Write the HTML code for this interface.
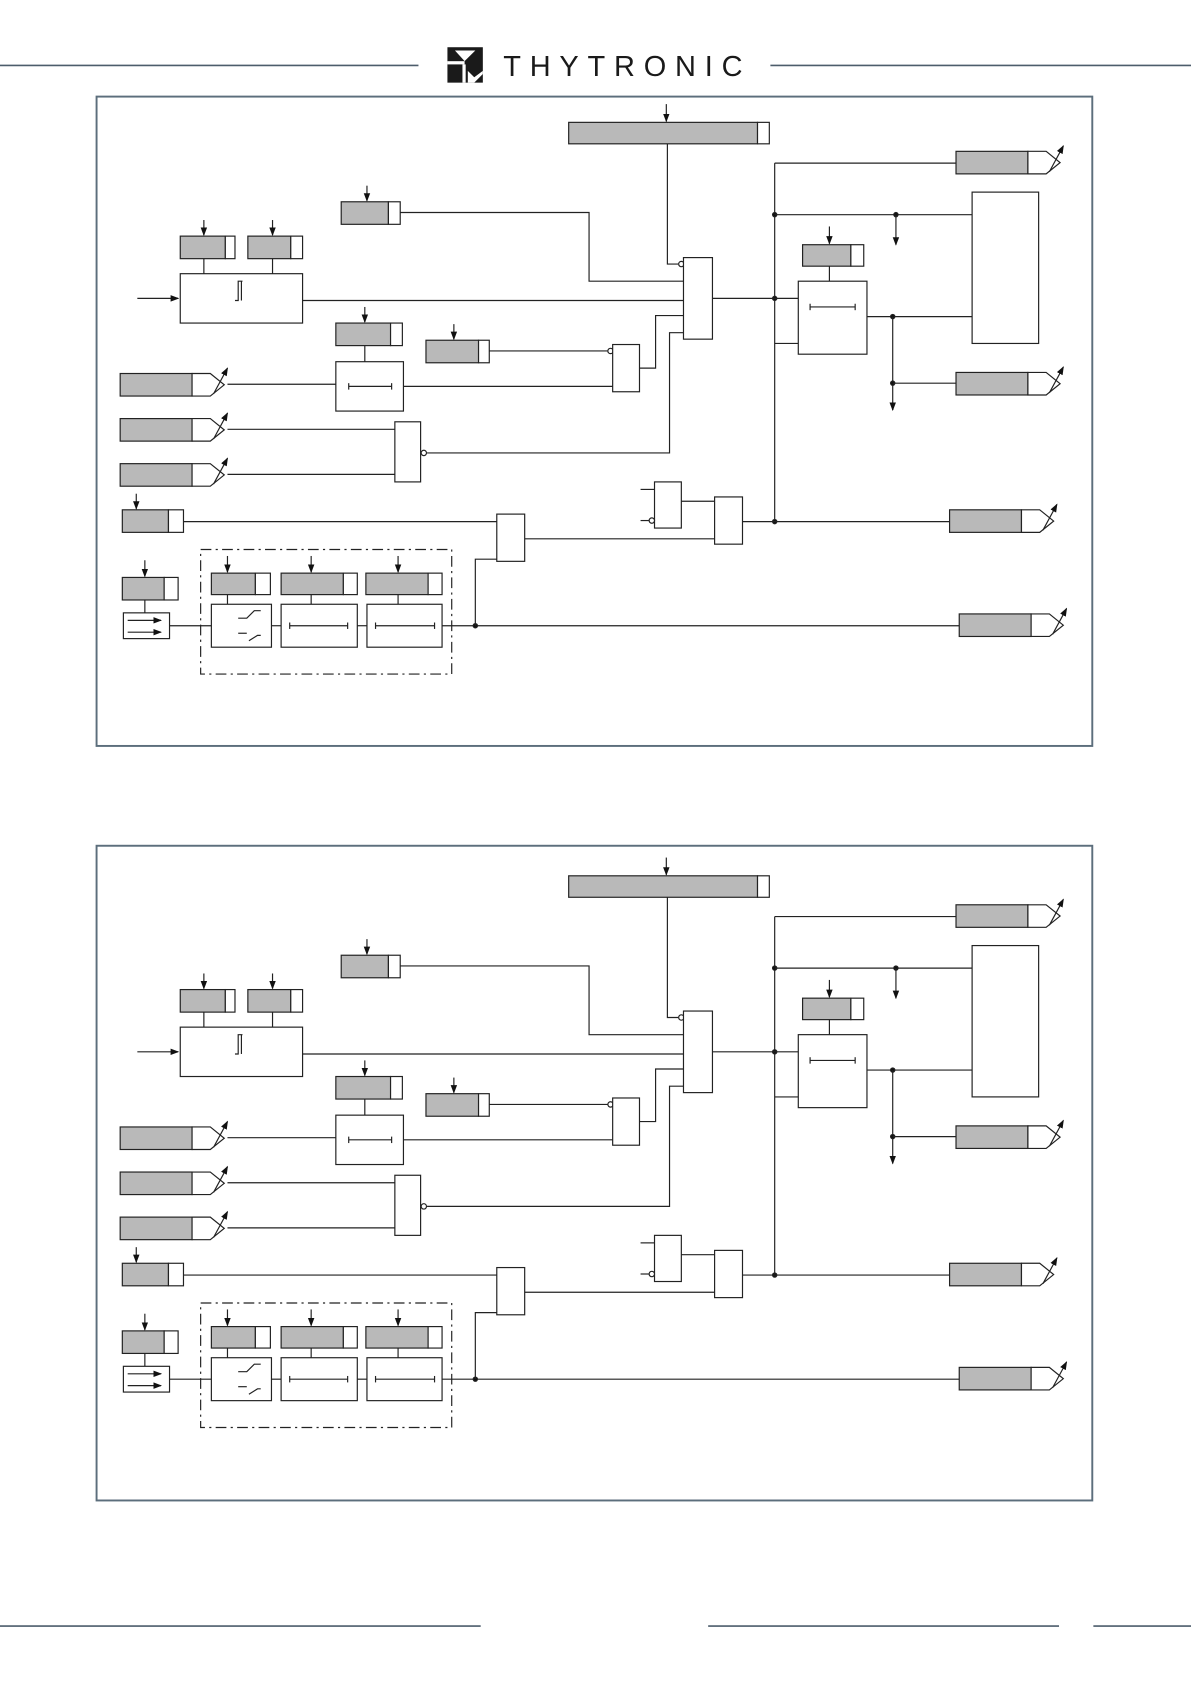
<!DOCTYPE html>
<html><head><meta charset="utf-8"><style>
html,body{margin:0;padding:0;background:#fff;}
svg{display:block;}
</style></head><body>
<svg width="1191" height="1684" viewBox="0 0 1110 1569" preserveAspectRatio="none" xmlns="http://www.w3.org/2000/svg">
<defs>
<marker id="ah" markerWidth="8" markerHeight="8" refX="7" refY="4" orient="auto" markerUnits="userSpaceOnUse"><path d="M0,1 L8,4 L0,7 Z" fill="#111"/></marker>
<g id="diag" fill="none" stroke="#222" stroke-width="1.1">
<rect x="530" y="114" width="176" height="20" fill="#b9b9b9"/><rect x="706" y="114" width="11" height="20" fill="#fff"/>
<line x1="621" y1="97" x2="621" y2="113" marker-end="url(#ah)"/>
<polyline points="622,134 622,246 632,246"/><circle cx="635" cy="246" r="2.5" fill="#fff"/>
<rect x="637" y="240" width="27" height="76" fill="#fff"/>
<line x1="722" y1="152" x2="891" y2="152"/>
<line x1="722" y1="152" x2="722" y2="486"/>
<circle cx="722" cy="200" r="2" fill="#111"/><circle cx="722" cy="278" r="2" fill="#111"/><circle cx="722" cy="486" r="2" fill="#111"/>
<line x1="722" y1="200" x2="906" y2="200"/><circle cx="835" cy="200" r="2" fill="#111"/>
<line x1="835" y1="200" x2="835" y2="228" marker-end="url(#ah)"/>
<rect x="906" y="179" width="62" height="141" fill="#fff"/>
<rect x="748" y="228" width="45" height="20" fill="#b9b9b9"/><rect x="793" y="228" width="12" height="20" fill="#fff"/>
<line x1="773" y1="211" x2="773" y2="227" marker-end="url(#ah)"/>
<line x1="773" y1="248" x2="773" y2="262"/>
<rect x="744" y="262" width="64" height="68" fill="#fff"/>
<line x1="755" y1="286" x2="797" y2="286"/><line x1="755" y1="283" x2="755" y2="289"/><line x1="797" y1="283" x2="797" y2="289"/>
<line x1="664" y1="278" x2="744" y2="278"/>
<line x1="722" y1="320" x2="744" y2="320"/>
<line x1="808" y1="295" x2="906" y2="295"/><circle cx="832" cy="295" r="2" fill="#111"/>
<line x1="832" y1="295" x2="832" y2="382" marker-end="url(#ah)"/>
<circle cx="832" cy="357" r="2" fill="#111"/><line x1="832" y1="357" x2="891" y2="357"/>
<rect x="318" y="188" width="44" height="21" fill="#b9b9b9"/><rect x="362" y="188" width="11" height="21" fill="#fff"/>
<line x1="342" y1="173" x2="342" y2="187" marker-end="url(#ah)"/>
<polyline points="373,198 549,198 549,262 637,262"/>
<rect x="168" y="220" width="42" height="21" fill="#b9b9b9"/><rect x="210" y="220" width="9" height="21" fill="#fff"/>
<rect x="231" y="220" width="40" height="21" fill="#b9b9b9"/><rect x="271" y="220" width="11" height="21" fill="#fff"/>
<line x1="190" y1="205" x2="190" y2="219" marker-end="url(#ah)"/><line x1="254" y1="205" x2="254" y2="219" marker-end="url(#ah)"/>
<line x1="190" y1="241" x2="190" y2="255"/><line x1="254" y1="241" x2="254" y2="255"/>
<rect x="168" y="255" width="114" height="46" fill="#fff"/>
<path d="M219,280 L222,280 L222,262 L226,262"/><line x1="225" y1="262" x2="225" y2="280"/>
<line x1="128" y1="278" x2="166" y2="278" marker-end="url(#ah)"/>
<line x1="282" y1="280" x2="637" y2="280"/>
<rect x="313" y="301" width="51" height="21" fill="#b9b9b9"/><rect x="364" y="301" width="11" height="21" fill="#fff"/>
<line x1="340" y1="286" x2="340" y2="300" marker-end="url(#ah)"/>
<line x1="340" y1="322" x2="340" y2="337"/>
<rect x="313" y="337" width="63" height="46" fill="#fff"/>
<line x1="325" y1="360" x2="365" y2="360"/><line x1="325" y1="357" x2="325" y2="363"/><line x1="365" y1="357" x2="365" y2="363"/>
<rect x="397" y="317" width="49" height="21" fill="#b9b9b9"/><rect x="446" y="317" width="10" height="21" fill="#fff"/>
<line x1="423" y1="302" x2="423" y2="316" marker-end="url(#ah)"/>
<line x1="456" y1="327" x2="568" y2="327"/><circle cx="569" cy="327" r="2.5" fill="#fff"/>
<rect x="571" y="321" width="25" height="44" fill="#fff"/>
<polyline points="596,343 611,343 611,294 637,294"/>
<line x1="212" y1="358" x2="313" y2="358"/><line x1="376" y1="360" x2="571" y2="360"/>
<line x1="212" y1="400" x2="368" y2="400"/><line x1="212" y1="442" x2="368" y2="442"/>
<rect x="368" y="393" width="24" height="56" fill="#fff"/><circle cx="395" cy="422" r="2.5" fill="#fff"/>
<polyline points="398,422 624,422 624,310 637,310"/>
<rect x="114" y="475" width="43" height="21" fill="#b9b9b9"/><rect x="157" y="475" width="14" height="21" fill="#fff"/>
<line x1="127" y1="460" x2="127" y2="474" marker-end="url(#ah)"/>
<line x1="171" y1="486" x2="463" y2="486"/>
<rect x="463" y="479" width="26" height="44" fill="#fff"/>
<line x1="489" y1="502" x2="666" y2="502"/>
<rect x="610" y="449" width="25" height="43" fill="#fff"/>
<line x1="597" y1="456" x2="610" y2="456"/><line x1="597" y1="485" x2="605" y2="485"/><circle cx="607.5" cy="485" r="2.5" fill="#fff"/>
<line x1="635" y1="467" x2="666" y2="467"/>
<rect x="666" y="463" width="26" height="44" fill="#fff"/>
<line x1="692" y1="486" x2="885" y2="486"/>
<rect x="114" y="538" width="39" height="21" fill="#b9b9b9"/><rect x="153" y="538" width="13" height="21" fill="#fff"/>
<line x1="135" y1="522" x2="135" y2="537" marker-end="url(#ah)"/>
<line x1="135" y1="559" x2="135" y2="571"/>
<rect x="115" y="571" width="43" height="24" fill="#fff"/>
<line x1="119" y1="578" x2="150" y2="578" marker-end="url(#ah)"/><line x1="119" y1="589" x2="150" y2="589" marker-end="url(#ah)"/>
<rect x="187" y="512" width="234" height="116" stroke-dasharray="10,4,2,4"/>
<rect x="197" y="534" width="41" height="20" fill="#b9b9b9"/><rect x="238" y="534" width="14" height="20" fill="#fff"/>
<rect x="262" y="534" width="58" height="20" fill="#b9b9b9"/><rect x="320" y="534" width="13" height="20" fill="#fff"/>
<rect x="341" y="534" width="58" height="20" fill="#b9b9b9"/><rect x="399" y="534" width="13" height="20" fill="#fff"/>
<line x1="212" y1="518" x2="212" y2="533" marker-end="url(#ah)"/><line x1="290" y1="518" x2="290" y2="533" marker-end="url(#ah)"/><line x1="371" y1="518" x2="371" y2="533" marker-end="url(#ah)"/>
<line x1="212" y1="554" x2="212" y2="563"/><line x1="290" y1="554" x2="290" y2="563"/><line x1="371" y1="554" x2="371" y2="563"/>
<rect x="197" y="563" width="56" height="40" fill="#fff"/>
<polyline points="222,576 230,576 237,569 243,569"/><line x1="222" y1="590" x2="230" y2="590"/><polyline points="232,597 240,592 243,592"/>
<rect x="262" y="563" width="71" height="40" fill="#fff"/>
<line x1="270" y1="583" x2="324" y2="583"/><line x1="270" y1="580" x2="270" y2="586"/><line x1="324" y1="580" x2="324" y2="586"/>
<rect x="342" y="563" width="70" height="40" fill="#fff"/>
<line x1="350" y1="583" x2="405" y2="583"/><line x1="350" y1="580" x2="350" y2="586"/><line x1="405" y1="580" x2="405" y2="586"/>
<line x1="158" y1="583" x2="197" y2="583"/><line x1="253" y1="583" x2="262" y2="583"/><line x1="333" y1="583" x2="342" y2="583"/>
<line x1="412" y1="583" x2="894" y2="583"/><circle cx="443" cy="583" r="2" fill="#111"/>
<polyline points="443,583 443,521 463,521"/>
</g>
<g id="o1" stroke="#222" stroke-width="1.1"><rect x="0" y="0" width="67" height="21" fill="#b9b9b9"/><polygon points="67,0 84,0 97,10.5 84,21 67,21" fill="#fff"/><line x1="87" y1="19" x2="100" y2="-5" fill="none" marker-end="url(#ah)"/></g>
<g id="outs">
<use href="#o1" x="891" y="141"/><use href="#o1" x="891" y="347"/><use href="#o1" x="885" y="475"/>
<use href="#o1" x="894" y="572"/>
<use href="#o1" x="112" y="348"/><use href="#o1" x="112" y="390"/><use href="#o1" x="112" y="432"/>
</g>
</defs>

<line x1="0" y1="61" x2="390" y2="61" stroke="#4d5d6b" stroke-width="1.5"/>
<line x1="718" y1="61" x2="1110" y2="61" stroke="#4d5d6b" stroke-width="1.5"/>
<g>
<rect x="417" y="44" width="33" height="33" fill="#1a1a1a"/>
<polygon points="424,47 443,47 433,57" fill="#fff"/>
<rect x="417" y="57" width="16" height="3" fill="#fff"/>
<rect x="431" y="60" width="3" height="17" fill="#fff"/>
<polygon points="436,77 436,66 442,72 450,66 450,69 442,77" fill="#fff"/>
</g>
<text x="469" y="71" font-family="Liberation Sans, sans-serif" font-size="27" fill="#1a1a1a" textLength="223" lengthAdjust="spacing">THYTRONIC</text>

<rect x="90" y="90" width="928" height="605" fill="none" stroke="#5c6e7c" stroke-width="1.8"/>
<rect x="90" y="788" width="928" height="610" fill="none" stroke="#5c6e7c" stroke-width="1.8"/>

<use href="#diag"/>
<use href="#outs"/>
<g transform="translate(0,702)">
<use href="#diag"/>
<use href="#outs"/>
</g>

<line x1="0" y1="1515" x2="448" y2="1515" stroke="#4d5d6b" stroke-width="1.5"/>
<line x1="660" y1="1515" x2="987" y2="1515" stroke="#4d5d6b" stroke-width="1.5"/>
<line x1="1019" y1="1515" x2="1110" y2="1515" stroke="#4d5d6b" stroke-width="1.5"/>
</svg>
</body></html>
